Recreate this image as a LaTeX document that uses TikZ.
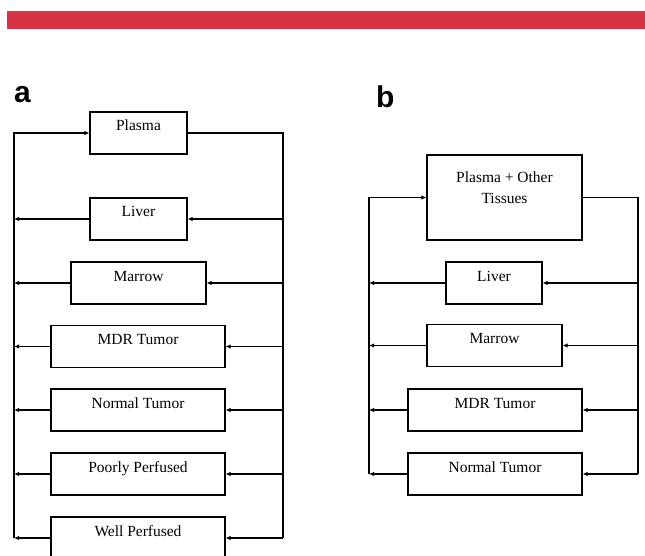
\documentclass[tikz,border=0pt]{standalone}
\usepackage{fontspec}
\setmainfont{Liberation Serif}
\newfontfamily\boxfont{Liberation Serif}
\newfontfamily\panelfont{Liberation Sans}
\usetikzlibrary{arrows.meta}
\definecolor{barred}{HTML}{D63347}
\begin{document}
\begin{tikzpicture}[x=1pt,y=-1pt,
  box/.style={draw, line width=1.1pt, inner sep=0pt, text height=19pt, text depth=23pt,
    font=\boxfont\fontsize{15.5}{21}\selectfont},
  link/.style={line width=1.6pt},
  arr/.style={link, -{Latex[length=5pt,width=4.5pt]}},
  panel/.style={font=\panelfont\bfseries\fontsize{30}{30}\selectfont, inner sep=0pt, anchor=base west}]
\clip (0,0) rectangle (645,556);
\fill[white] (0,0) rectangle (645,556);
\fill[barred] (7,11) rectangle (645,29.5);

\node[panel] (la) at (14,103) {a};
\node[panel] (lb) at (376,108) {b};

% panel a
\node[box, minimum width=97pt]  (aplasma) at (138.5,133) {Plasma};
\node[box, minimum width=97pt]  (aliver)  at (138.5,219) {Liver};
\node[box, minimum width=135pt] (amarrow) at (138.5,283) {Marrow};
\node[box, minimum width=174pt] (amdr)    at (138,346.5) {MDR Tumor};
\node[box, minimum width=174pt] (anorm)   at (138,410) {Normal Tumor};
\node[box, minimum width=174pt] (apoor)   at (138,474) {Poorly Perfused};
\node[box, minimum width=174pt] (awell)   at (138,538) {Well Perfused};
\coordinate (aLt) at (14,133);
\coordinate (aRt) at (283,133);

\draw[link] (aplasma.east) -- (aRt) -- (aRt |- awell.east);
\draw[arr] (aLt |- awell.west) -- (aLt) -- (aplasma.west);
\foreach \n in {aliver,amarrow,amdr,anorm,apoor,awell}{
  \draw[arr] (aRt |- \n.east) -- (\n.east);
  \draw[arr] (\n.west) -- (aLt |- \n.west);
}

% panel b
\node[box, minimum width=155pt, text height=27.5pt, text depth=57.5pt] (bplasma) at (504.5,197.5)
  {\begin{tabular}[t]{@{}c@{}}Plasma + Other\\Tissues\end{tabular}};
\node[box, minimum width=96pt]  (bliver)  at (494,283) {Liver};
\node[box, minimum width=135pt] (bmarrow) at (494.5,345.5) {Marrow};
\node[box, minimum width=174pt] (bmdr)    at (495,410) {MDR Tumor};
\node[box, minimum width=174pt] (bnorm)   at (495,474) {Normal Tumor};
\coordinate (bLt) at (369,197.5);
\coordinate (bRt) at (638,197.5);

\draw[link] (bplasma.east) -- (bRt) -- (bRt |- bnorm.east);
\draw[arr] (bLt |- bnorm.west) -- (bLt) -- (bplasma.west);
\foreach \n in {bliver,bmarrow,bmdr,bnorm}{
  \draw[arr] (bRt |- \n.east) -- (\n.east);
  \draw[arr] (\n.west) -- (bLt |- \n.west);
}
\end{tikzpicture}
\end{document}
